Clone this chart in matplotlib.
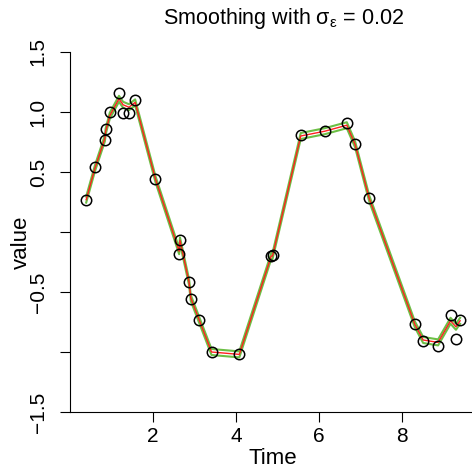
import matplotlib
matplotlib.use('Agg')
import numpy as np
from matplotlib import pyplot as plt

plt.rcParams['font.family'] = ['Liberation Sans', 'DejaVu Sans']
plt.rcParams['mathtext.fontset'] = 'custom'
plt.rcParams['mathtext.rm'] = 'Liberation Sans'
plt.rcParams['mathtext.it'] = 'Liberation Sans'

# observed series
time = [0.39, 0.60, 0.84, 0.86, 0.96, 1.18, 1.28, 1.42, 1.57, 2.06,
        2.65, 2.63, 2.87, 2.91, 3.11, 3.41, 4.08, 4.85, 4.88, 5.56,
        6.14, 6.67, 6.87, 7.21, 8.31, 8.51, 8.87, 9.17, 9.30, 9.40]
value = [0.27, 0.54, 0.77, 0.86, 1.00, 1.16, 0.99, 0.99, 1.10, 0.44,
         -0.07, -0.18, -0.42, -0.56, -0.73, -1.00, -1.02, -0.20, -0.19, 0.81,
         0.84, 0.91, 0.73, 0.28, -0.77, -0.91, -0.95, -0.69, -0.89, -0.73]

# smoothed estimate
smooth = [0.27, 0.53, 0.78, 0.84, 0.97, 1.11, 1.06, 1.04, 1.08, 0.44,
          -0.07, -0.16, -0.42, -0.55, -0.73, -1.00, -1.02, -0.20, -0.20, 0.80,
          0.84, 0.89, 0.73, 0.28, -0.77, -0.90, -0.92, -0.74, -0.79, -0.74]
band = 0.025

yticks = [-1.5, -1.0, -0.5, 0.0, 0.5, 1.0, 1.5]
ylabels = ['\u22121.5', '', '\u22120.5', '', '0.5', '1.0', '1.5']
xticks = [2, 4, 6, 8]

order = np.argsort(time)
t = np.array(time)[order]
s = np.array(smooth)[order]

fig = plt.figure(figsize=(4.72, 4.73), dpi=100)
ax = fig.add_axes([70/472, 61/473, 406/472, 360/473])

ax.plot(t, s + band, color='#6cbf45', lw=1.5)
ax.plot(t, s - band, color='#6cbf45', lw=1.5)
ax.plot(t, s, color='#ff2020', lw=1.0)
ax.plot(time, value, 'o', mfc='none', mec='black', ms=7.5, mew=1.1)

ax.set_xlim(0, 406/41.5)
ax.set_ylim(-1.5, 1.5)
ax.spines['top'].set_visible(False)
ax.spines['right'].set_visible(False)
ax.set_xticks(xticks)
ax.set_xticklabels([str(v) for v in xticks])
ax.set_yticks(yticks)
ax.set_yticklabels(ylabels, rotation=90, va='center')
ax.tick_params(length=7, width=0.8, labelsize=15)
ax.tick_params(axis='x', pad=4)
ax.tick_params(axis='y', pad=9)
ax.set_xlabel('Time', fontsize=16, labelpad=1)
ax.set_ylabel('value', fontsize=16)
ax.yaxis.set_label_coords(-0.095, 0.47)
ax.set_title(r'Smoothing with $\mathrm{\sigma_{\varepsilon}}$ = 0.02', fontsize=15.5,
             pad=20, x=0.527)

fig.savefig('out.png', dpi=100)
